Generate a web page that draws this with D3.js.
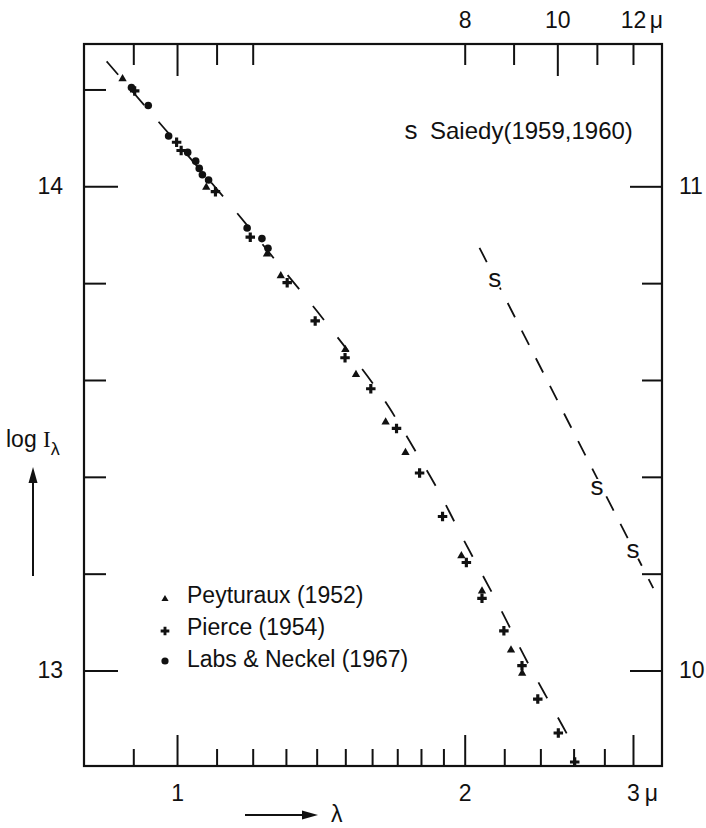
<!DOCTYPE html>
<html>
<head>
<meta charset="utf-8">
<script src="https://cdn.jsdelivr.net/npm/d3@7"></script>
<style>
body { margin: 0; background: #fff; }
svg { font-family: "Liberation Sans", Arial, sans-serif; }
</style>
</head>
<body>
<svg width="706" height="828"></svg>
<script>
// wavelength (micron) and log I_lambda
var peyturauxLam  = [0.877, 1.073, 1.242, 1.284, 1.500, 1.539, 1.653, 1.734, 1.984, 2.085, 2.236, 2.297];
var peyturauxLogI = [14.222, 13.998, 13.860, 13.815, 13.663, 13.611, 13.513, 13.450, 13.237, 13.164, 13.042, 12.994];

var pierceLam  = [0.903, 0.999, 1.010, 1.097, 1.193, 1.304, 1.395, 1.499, 1.595, 1.697, 1.794, 1.896, 2.008, 2.085, 2.198, 2.296, 2.385, 2.506, 2.607];
var pierceLogI = [14.197, 14.091, 14.074, 13.989, 13.895, 13.801, 13.722, 13.646, 13.582, 13.500, 13.408, 13.318, 13.223, 13.149, 13.082, 13.010, 12.941, 12.871, 12.811];

var labsLam  = [0.896, 0.933, 0.980, 1.026, 1.046, 1.055, 1.063, 1.079, 1.184, 1.227, 1.245];
var labsLogI = [14.204, 14.167, 14.104, 14.070, 14.052, 14.037, 14.024, 14.013, 13.914, 13.892, 13.872];

// dashed curve through the near-IR points
var fitLam  = [0.844, 0.864, 0.960, 1.146, 1.281, 1.373, 1.461, 1.566, 1.662, 1.785, 1.885, 1.981, 2.083, 2.194, 2.307, 2.419, 2.549, 2.591];
var fitLogI = [14.258, 14.235, 14.129, 13.956, 13.835, 13.765, 13.696, 13.621, 13.550, 13.446, 13.367, 13.280, 13.201, 13.118, 13.029, 12.956, 12.875, 12.850];

// Saiedy, on the top (micron) and right (log I) scales
var saiedyLam  = [8.6, 11.0, 12.0];
var saiedyLogI = [10.81, 10.38, 10.25];
var saiedyFitLam  = [8.29, 12.60];
var saiedyFitLogI = [10.873, 10.170];

// ticks
var bottomMajor = [1, 2, 3];
var bottomMinor = [0.9, 1.1, 1.2, 1.3, 1.4, 1.5, 1.6, 1.7, 1.8, 1.9, 2.2, 2.4, 2.6, 2.8];
var topMajor = [4, 10];
var topMinor = [3.6, 4.4, 4.8, 8, 9, 11, 12];
var topLabels = [8, 10, 12];
var leftMajor = [13, 14];
var leftMinor = [13.2, 13.4, 13.6, 13.8, 14.2];
var rightMajor = [10, 11];
var rightMinor = [10.2, 10.4, 10.6, 10.8];

var boxL = 84, boxR = 662, boxT = 44, boxB = 766;
var fs = 23;

var svg = d3.select("svg");

var x = d3.scaleLog().domain([0.7992, 3.2172]).range([boxL, boxR]);
var xTop = d3.scaleLog().domain([4 * 0.7992, 4 * 3.2172]).range([boxL, boxR]);
var y = d3.scaleLinear().domain([12.8028, 14.2939]).range([boxB, boxT]);
var yRight = d3.scaleLinear().domain([12.8028 - 3, 14.2939 - 3]).range([boxB, boxT]);

function styleAxis(g) {
	g.select(".domain").remove();
	g.selectAll("line").attr("stroke", "#111").attr("stroke-width", 2);
	g.selectAll("text").attr("fill", "#111").attr("font-size", fs)
		.attr("font-family", "Liberation Sans, Arial, sans-serif");
}

// bottom
svg.append("g").attr("transform", "translate(0," + boxB + ")")
	.call(d3.axisBottom(x).tickValues(bottomMinor).tickSize(-17).tickFormat(""))
	.call(styleAxis);
var gb = svg.append("g").attr("transform", "translate(0," + boxB + ")")
	.call(d3.axisBottom(x).tickValues(bottomMajor).tickSize(-31).tickPadding(19).tickFormat(d3.format("d")))
	.call(styleAxis);
gb.selectAll(".tick").filter(function(d) { return d === 3; })
	.append("text").attr("x", 18).attr("y", 19).attr("dy", "0.71em")
	.attr("font-size", fs).attr("fill", "#111").text("\u03bc");

// top
svg.append("g").attr("transform", "translate(0," + boxT + ")")
	.call(d3.axisTop(xTop).tickValues(topMinor).tickSize(-21).tickFormat(""))
	.call(styleAxis);
svg.append("g").attr("transform", "translate(0," + boxT + ")")
	.call(d3.axisTop(xTop).tickValues(topMajor).tickSize(-32).tickFormat(""))
	.call(styleAxis);
var gt = svg.append("g").attr("transform", "translate(0," + boxT + ")")
	.call(d3.axisTop(xTop).tickValues(topLabels).tickSize(0).tickPadding(16).tickFormat(d3.format("d")))
	.call(styleAxis);
gt.selectAll(".tick").filter(function(d) { return d === 12; })
	.append("text").attr("x", 23).attr("y", -16)
	.attr("font-size", fs).attr("fill", "#111").text("\u03bc");

// left
svg.append("g").attr("transform", "translate(" + boxL + ",0)")
	.call(d3.axisLeft(y).tickValues(leftMinor).tickSize(-22).tickFormat(""))
	.call(styleAxis);
svg.append("g").attr("transform", "translate(" + boxL + ",0)")
	.call(d3.axisLeft(y).tickValues(leftMajor).tickSize(-34).tickPadding(21).tickFormat(d3.format("d")))
	.call(styleAxis);

// right
svg.append("g").attr("transform", "translate(" + boxR + ",0)")
	.call(d3.axisRight(yRight).tickValues(rightMinor).tickSize(-20).tickFormat(""))
	.call(styleAxis);
svg.append("g").attr("transform", "translate(" + boxR + ",0)")
	.call(d3.axisRight(yRight).tickValues(rightMajor).tickSize(-32).tickPadding(17).tickFormat(d3.format("d")))
	.call(styleAxis);

// frame
svg.append("rect")
	.attr("x", boxL).attr("y", boxT)
	.attr("width", boxR - boxL).attr("height", boxB - boxT)
	.attr("fill", "none").attr("stroke", "#111").attr("stroke-width", 2.2);

// dashed curves
var fitLine = d3.line()
	.x(function(d) { return x(d[0]); })
	.y(function(d) { return y(d[1]); })
	.curve(d3.curveBasis);
svg.append("path")
	.datum(d3.zip(fitLam, fitLogI))
	.attr("d", fitLine)
	.attr("fill", "none").attr("stroke", "#111").attr("stroke-width", 1.8)
	.attr("stroke-dasharray", "18,22");

var saiedyLine = d3.line()
	.x(function(d) { return xTop(d[0]); })
	.y(function(d) { return yRight(d[1]); });
svg.append("path")
	.datum(d3.zip(saiedyFitLam, saiedyFitLogI))
	.attr("d", saiedyLine)
	.attr("fill", "none").attr("stroke", "#111").attr("stroke-width", 1.8)
	.attr("stroke-dasharray", "16,15");

// markers
var tri = d3.symbol().type(d3.symbolTriangle).size(30);
var cross = d3.symbol().type(d3.symbolCross).size(50);

svg.append("g").selectAll("path")
	.data(d3.zip(peyturauxLam, peyturauxLogI))
	.enter().append("path")
	.attr("d", tri)
	.attr("transform", function(d) { return "translate(" + x(d[0]) + "," + y(d[1]) + ")"; })
	.attr("fill", "#111");

svg.append("g").selectAll("path")
	.data(d3.zip(pierceLam, pierceLogI))
	.enter().append("path")
	.attr("d", cross)
	.attr("transform", function(d) { return "translate(" + x(d[0]) + "," + y(d[1]) + ")"; })
	.attr("fill", "#111");

svg.append("g").selectAll("circle")
	.data(d3.zip(labsLam, labsLogI))
	.enter().append("circle")
	.attr("cx", function(d) { return x(d[0]); })
	.attr("cy", function(d) { return y(d[1]); })
	.attr("r", 3.8)
	.attr("fill", "#111");

// s markers, white halo so the dashes break around them
svg.append("g").selectAll("text")
	.data(d3.zip(saiedyLam, saiedyLogI))
	.enter().append("text")
	.attr("x", function(d) { return xTop(d[0]); })
	.attr("y", function(d) { return yRight(d[1]); })
	.attr("dy", "0.33em")
	.attr("text-anchor", "middle")
	.attr("font-size", 26)
	.attr("fill", "#111")
	.attr("stroke", "#fff").attr("stroke-width", 4).attr("paint-order", "stroke")
	.text("s");

// legends
svg.append("text").attr("x", 411).attr("y", 139).attr("text-anchor", "middle")
	.attr("font-size", 26).attr("fill", "#111").text("s");
svg.append("text").attr("x", 430).attr("y", 139)
	.attr("font-size", 24).attr("fill", "#111").text("Saiedy(1959,1960)");

var leg = svg.append("g");
leg.append("path").attr("d", d3.symbol().type(d3.symbolTriangle).size(22)).attr("transform", "translate(165,599)").attr("fill", "#111");
leg.append("path").attr("d", d3.symbol().type(d3.symbolCross).size(42)).attr("transform", "translate(165,631)").attr("fill", "#111");
leg.append("circle").attr("cx", 165).attr("cy", 661).attr("r", 3.6).attr("fill", "#111");
var legTexts = ["Peyturaux (1952)", "Pierce (1954)", "Labs & Neckel (1967)"];
leg.selectAll("text").data(legTexts).enter().append("text")
	.attr("x", 187)
	.attr("y", function(d, i) { return 603 + i * 32; })
	.attr("font-size", fs).attr("fill", "#111")
	.text(function(d) { return d; });

// axis titles with arrows
var yl = svg.append("text").attr("x", 6).attr("y", 447).attr("font-size", fs).attr("fill", "#111");
yl.append("tspan").text("log ");
yl.append("tspan").attr("font-family", "Liberation Serif, serif").text("I");
yl.append("tspan").attr("dy", 8).attr("font-size", 18).text("\u03bb");

svg.append("line").attr("x1", 33).attr("x2", 33).attr("y1", 576).attr("y2", 480)
	.attr("stroke", "#111").attr("stroke-width", 2);
svg.append("path").attr("d", "M33,467 L28.5,483 L37.5,483 Z").attr("fill", "#111");

svg.append("line").attr("x1", 245).attr("x2", 305).attr("y1", 815).attr("y2", 815)
	.attr("stroke", "#111").attr("stroke-width", 2);
svg.append("path").attr("d", "M318,815 L302,810.5 L302,819.5 Z").attr("fill", "#111");
svg.append("text").attr("x", 331).attr("y", 822).attr("font-size", fs).attr("fill", "#111").text("\u03bb");
</script>
</body>
</html>
